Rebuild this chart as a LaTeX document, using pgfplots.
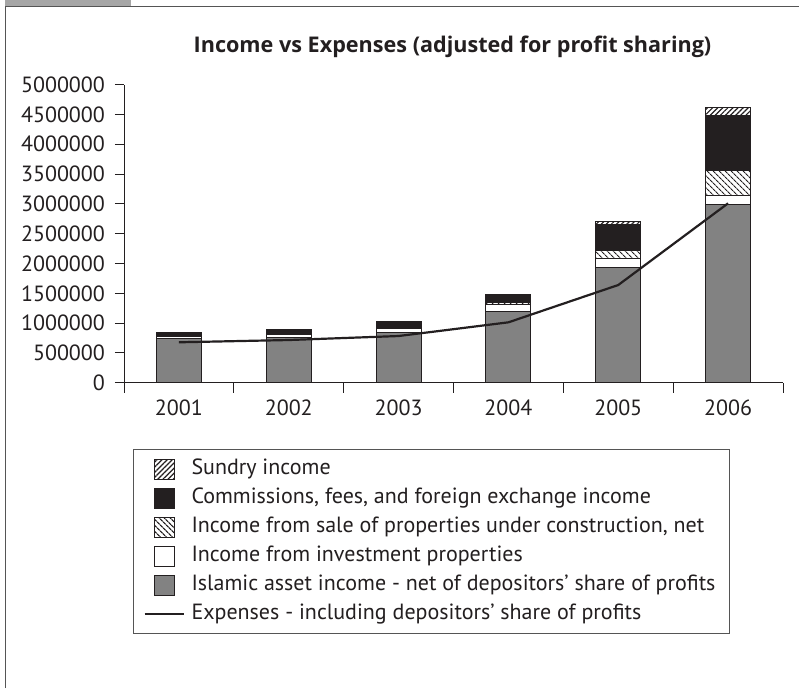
\documentclass[border=0pt]{standalone}
\usepackage{fontspec}
\setmainfont{PT Sans}
\newfontfamily\titlefont{Open Sans}
\usepackage{pgfplots}
\pgfplotsset{compat=1.18}
\usetikzlibrary{patterns.meta}
\definecolor{barblack}{HTML}{231F20}
\definecolor{bargray}{HTML}{828282}
\definecolor{framegray}{HTML}{555555}
\newcommand\fs{\fontsize{22}{26}\selectfont}
\begin{document}
\begin{tikzpicture}[x=1pt,y=1pt]
\path[use as bounding box] (0,0) rectangle (799,688);
\fill[gray!70] (5,682) rectangle (131,688);
\draw[framegray, line width=1.2pt] (5.5,0) -- (5.5,681.5) -- (799,681.5);
\node[font=\titlefont\fontsize{21.6}{26}\selectfont\bfseries, text=barblack, anchor=base] at (452.5,635.5) {Income vs Expenses (adjusted for profit sharing)};
\pgfplotsset{
  common/.style={
    scale only axis, width=659pt, height=298pt,
    at={(124pt,305.3pt)}, anchor=south west,
    xmin=0.5, xmax=6.5, ymin=0, ymax=5000000,
  },
  sqimg/.style={legend image code/.code={\draw[##1,line width=1pt] (0pt,-10pt) rectangle (20pt,10pt);}},
  lineimg/.style={legend image code/.code={\draw[##1] (-10pt,0pt) -- (29pt,0pt);}},
}
\begin{axis}[common,
  ybar stacked, bar width=45pt,
  axis lines*=left,
  axis line style={barblack, line width=1pt},
  xtick={1,...,6}, xticklabels={2001,2002,2003,2004,2005,2006},
  major x tick style={draw=none},
  minor xtick={0.5,1.5,2.5,3.5,4.5,5.5,6.5},
  minor tick length=10pt, major tick length=9pt,
  tick align=outside,
  tick style={barblack, line width=1pt},
  ytick={0,500000,1000000,1500000,2000000,2500000,3000000,3500000,4000000,4500000,5000000},
  scaled y ticks=false,
  /pgf/number format/fixed, /pgf/number format/1000 sep={},
  /pgf/number format/assume math mode=true,
  tick label style={font=\fs, text=barblack},
  yticklabel style={xshift=-6.5pt},
  xticklabel style={yshift=-5pt},
  legend style={at={(0.01366,-0.2225)}, anchor=north west, draw=framegray, line width=1pt,
    fill=white, font=\fs, inner xsep=10pt, inner ysep=5pt, column sep=3pt,
    nodes={text height=15pt, text depth=5pt, inner ysep=4.5pt, inner xsep=4pt, text=barblack}},
  legend cell align=left, reverse legend,
]
\addlegendimage{barblack, line width=2pt, lineimg}
\addlegendentry{Expenses - including depositors' share of profits}
\addplot[fill=bargray, draw=barblack, line width=1pt, sqimg] coordinates {(1,745000) (2,755000) (3,839000) (4,1191000) (5,1936000) (6,2982000)};
\addlegendentry{Islamic asset income - net of depositors’ share of profits}
\addplot[fill=white, draw=barblack, line width=1pt, sqimg] coordinates {(1,38000) (2,50000) (3,74000) (4,124000) (5,145000) (6,156000)};
\addlegendentry{Income from investment properties}
\addplot[pattern={Lines[angle=-45,distance=4pt,line width=1.2pt]}, pattern color=barblack, draw=barblack, line width=1pt, sqimg] coordinates {(1,0) (2,0) (3,0) (4,25000) (5,145000) (6,419000)};
\addlegendentry{Income from sale of properties under construction, net}
\addplot[fill=barblack, draw=barblack, line width=1pt, sqimg] coordinates {(1,63000) (2,91000) (3,122000) (4,143000) (5,420000) (6,918000)};
\addlegendentry{Commissions, fees, and foreign exchange income}
\addplot[pattern={Lines[angle=45,distance=3.6pt,line width=1.2pt]}, pattern color=barblack, draw=barblack, line width=1pt, sqimg] coordinates {(1,0) (2,0) (3,0) (4,0) (5,62000) (6,139000)};
\addlegendentry{Sundry income}
\end{axis}
\begin{axis}[common, hide axis]
\addplot[barblack, line width=2.2pt, sharp plot, mark=none] coordinates {(1,678000) (2,716000) (3,783000) (4,1013000) (5,1639000) (6,3010000)};
\end{axis}
\end{tikzpicture}
\end{document}
